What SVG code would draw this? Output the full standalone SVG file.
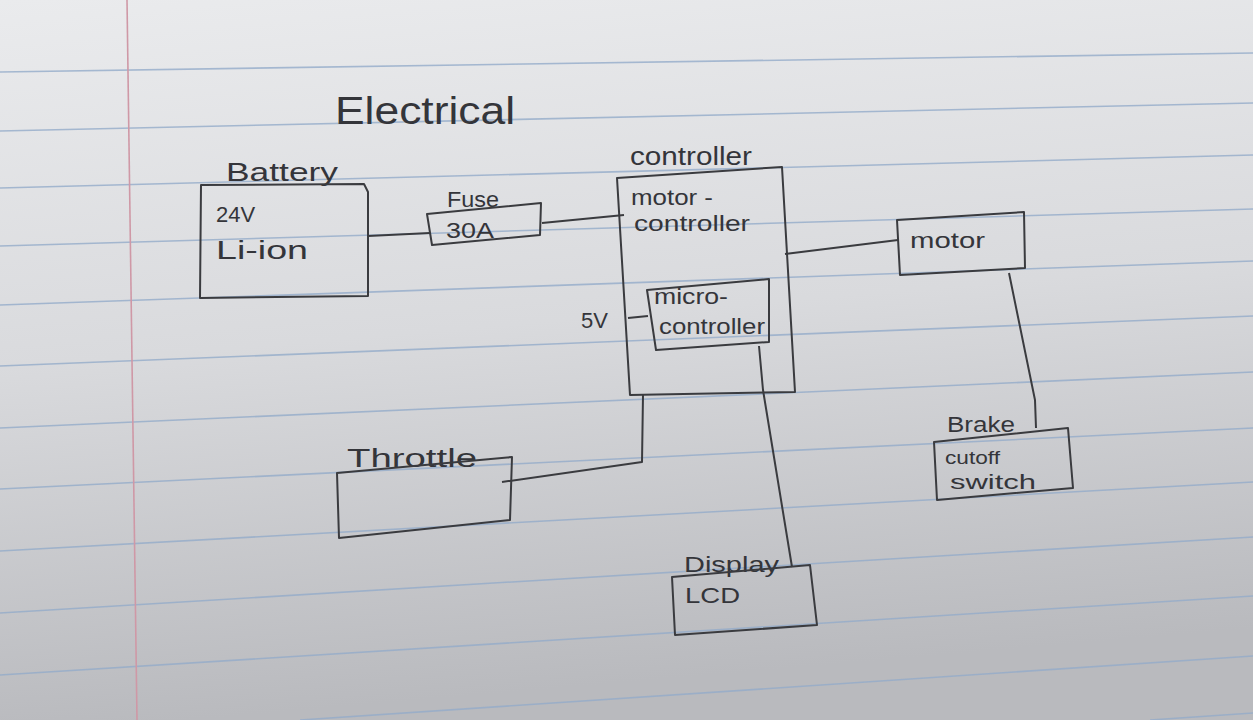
<svg xmlns="http://www.w3.org/2000/svg" width="1253" height="720" viewBox="0 0 1253 720">
  <defs>
    <linearGradient id="paper" x1="0" y1="0" x2="0.15" y2="1">
      <stop offset="0" stop-color="#eaebed"/>
      <stop offset="0.5" stop-color="#d9dadd"/>
      <stop offset="1" stop-color="#b9babe"/>
    </linearGradient>
    <style>
      .rule { stroke: #93abc9; stroke-width: 1.6; fill: none; opacity: 0.8; }
      .margin { stroke: #cf98a6; stroke-width: 1.6; fill: none; }
      .box { fill: none; stroke: #3a3b3f; stroke-width: 2; stroke-linejoin: round; }
      .wire { fill: none; stroke: #3a3b3f; stroke-width: 2; stroke-linejoin: round; }
      .t { font-family: "Liberation Sans", "DejaVu Sans", sans-serif; fill: #34353a; font-size: 22px; }
      .title { font-size: 38px; }
      .lbl { font-size: 25px; }
      .sm { font-size: 19px; }
      .md { font-size: 21px; }
      .lg { font-size: 26px; }
    </style>
  </defs>

  <g id="paper-bg">
    <rect x="0" y="0" width="1253" height="720" fill="url(#paper)"/>
    <line class="rule" x1="0" y1="72" x2="1253" y2="53"/>
    <line class="rule" x1="0" y1="131" x2="1253" y2="103"/>
    <line class="rule" x1="0" y1="188" x2="1253" y2="155"/>
    <line class="rule" x1="0" y1="246" x2="1253" y2="209"/>
    <line class="rule" x1="0" y1="305" x2="1253" y2="261"/>
    <line class="rule" x1="0" y1="366" x2="1253" y2="316"/>
    <line class="rule" x1="0" y1="428" x2="1253" y2="372"/>
    <line class="rule" x1="0" y1="489" x2="1253" y2="428"/>
    <line class="rule" x1="0" y1="551" x2="1253" y2="482"/>
    <line class="rule" x1="0" y1="613" x2="1253" y2="537"/>
    <line class="rule" x1="0" y1="675" x2="1253" y2="596"/>
    <line class="rule" x1="300" y1="720" x2="1253" y2="656"/>
    <line class="rule" x1="1150" y1="720" x2="1253" y2="713"/>
    <line class="margin" x1="127" y1="0" x2="137" y2="720"/>
  </g>

  <text class="t title" x="335" y="124" textLength="180" lengthAdjust="spacingAndGlyphs">Electrical</text>

  <g id="connectors">
    <path class="wire" d="M368 236 L430 233"/>
    <path class="wire" d="M542 223 L624 215"/>
    <path class="wire" d="M785 254 L898 240"/>
    <path class="wire" d="M628 318 L648 316"/>
    <path class="wire" d="M1009 273 L1035 400 L1036 428"/>
    <path class="wire" d="M643 395 L642 462 L502 482"/>
    <path class="wire" d="M759 346 L763 390 L792 567"/>
  </g>

  <g id="battery">
    <text class="t lbl" x="226" y="181" textLength="112" lengthAdjust="spacingAndGlyphs">Battery</text>
    <path class="box" d="M201 185 L364 184 L368 192 L368 296 L200 298 Z"/>
    <text class="t" x="216" y="222">24V</text>
    <text class="t lg" x="216" y="259" textLength="92" lengthAdjust="spacingAndGlyphs">Li-ion</text>
  </g>

  <g id="fuse">
    <text class="t" x="447" y="207" textLength="52" lengthAdjust="spacingAndGlyphs">Fuse</text>
    <path class="box" d="M427 214 L541 203 L540 235 L432 245 Z"/>
    <text class="t" x="446" y="238" textLength="48" lengthAdjust="spacingAndGlyphs">30A</text>
  </g>

  <g id="controller">
    <text class="t lbl" x="630" y="165" textLength="122" lengthAdjust="spacingAndGlyphs">controller</text>
    <path class="box" d="M617 178 L782 167 L795 392 L630 395 Z"/>
    <text class="t" x="631" y="205" textLength="82" lengthAdjust="spacingAndGlyphs">motor -</text>
    <text class="t" x="634" y="231" textLength="116" lengthAdjust="spacingAndGlyphs">controller</text>
  </g>

  <g id="microcontroller">
    <path class="box" d="M647 290 L769 279 L769 342 L656 350 Z"/>
    <text class="t" x="654" y="304" textLength="74" lengthAdjust="spacingAndGlyphs">micro-</text>
    <text class="t" x="659" y="334" textLength="106" lengthAdjust="spacingAndGlyphs">controller</text>
  </g>

  <g id="five-volt">
    <text class="t" x="581" y="328">5V</text>
  </g>

  <g id="motor">
    <path class="box" d="M897 220 L1024 212 L1025 268 L900 275 Z"/>
    <text class="t" x="910" y="248" textLength="75" lengthAdjust="spacingAndGlyphs">motor</text>
  </g>

  <g id="brake">
    <text class="t" x="947" y="432" textLength="68" lengthAdjust="spacingAndGlyphs">Brake</text>
    <path class="box" d="M934 442 L1068 428 L1073 488 L937 500 Z"/>
    <text class="t sm" x="945" y="464" textLength="55" lengthAdjust="spacingAndGlyphs">cutoff</text>
    <text class="t md" x="950" y="489" textLength="86" lengthAdjust="spacingAndGlyphs">switch</text>
  </g>

  <g id="throttle">
    <text class="t lbl" x="347" y="467" textLength="130" lengthAdjust="spacingAndGlyphs">Throttle</text>
    <path class="box" d="M337 473 L512 457 L510 520 L339 538 Z"/>
  </g>

  <g id="display">
    <text class="t" x="684" y="572" textLength="95" lengthAdjust="spacingAndGlyphs">Display</text>
    <path class="box" d="M672 577 L810 565 L817 625 L675 635 Z"/>
    <text class="t" x="685" y="603" textLength="55" lengthAdjust="spacingAndGlyphs">LCD</text>
  </g>
</svg>
